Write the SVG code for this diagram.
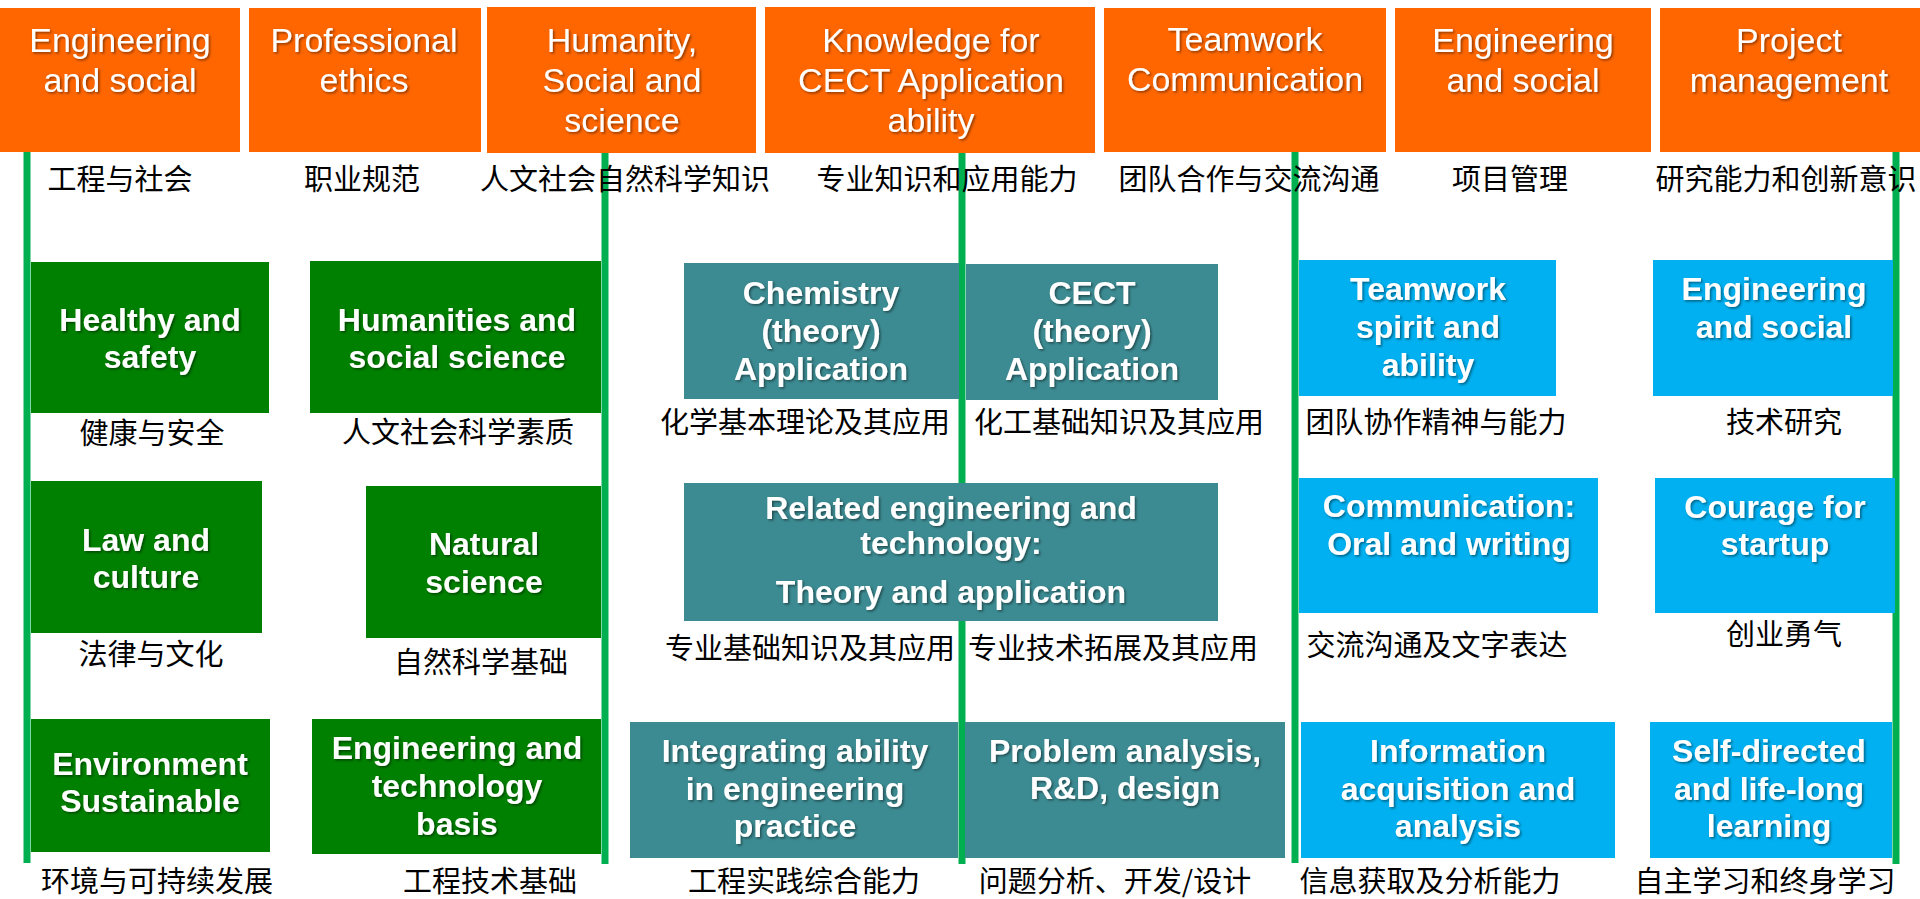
<svg xmlns="http://www.w3.org/2000/svg" width="1920" height="899" viewBox="0 0 1920 899">
<defs>
<filter id="sh" x="-10%" y="-20%" width="120%" height="150%"><feDropShadow dx="1.5" dy="1.5" stdDeviation="0.8" flood-color="#000" flood-opacity="0.45"/></filter>
<style>
.hd{fill:#FF6600}
.gn{fill:#008000}
.tl{fill:#3C8B92}
.cy{fill:#00B0F0}
.ht{font-family:"Liberation Sans",Arial,sans-serif;font-size:34px;fill:#fff;text-anchor:middle;filter:url(#sh)}
.bt{font-family:"Liberation Sans",Arial,sans-serif;font-size:32px;font-weight:bold;fill:#fff;text-anchor:middle;filter:url(#sh)}
.zh{font-family:"Noto Sans CJK SC","Noto Sans CJK JP",sans-serif;font-size:29px;fill:#000;text-anchor:middle}
.ln{stroke:#00B050;stroke-width:7;fill:none}
</style>
</defs>
<rect width="1920" height="899" fill="#fff"/>
<g id="connectors">
<line class="ln" x1="27" y1="151" x2="27" y2="863"/>
<line class="ln" x1="605" y1="152" x2="605" y2="864"/>
<line class="ln" x1="962" y1="152" x2="962" y2="864"/>
<line class="ln" x1="1295" y1="152" x2="1295" y2="863"/>
<line class="ln" x1="1896" y1="152" x2="1896" y2="864"/>
</g>
<g id="h1"><rect class="hd" x="0" y="8" width="240" height="144"/><text class="ht" x="120" y="52">Engineering</text><text class="ht" x="120" y="92">and social</text><text class="zh" x="120" y="190">工程与社会</text></g>
<g id="h2"><rect class="hd" x="249" y="8" width="232" height="144"/><text class="ht" x="364" y="52">Professional</text><text class="ht" x="364" y="92">ethics</text><text class="zh" x="362" y="190">职业规范</text></g>
<g id="h3"><rect class="hd" x="487" y="7" width="269" height="146"/><text class="ht" x="622" y="52">Humanity,</text><text class="ht" x="622" y="92">Social and</text><text class="ht" x="622" y="132">science</text><text class="zh" x="625" y="190">人文社会自然科学知识</text></g>
<g id="h4"><rect class="hd" x="765" y="7" width="330" height="146"/><text class="ht" x="931" y="52">Knowledge for</text><text class="ht" x="931" y="92">CECT Application</text><text class="ht" x="931" y="132">ability</text><text class="zh" x="947" y="190">专业知识和应用能力</text></g>
<g id="h5"><rect class="hd" x="1104" y="8" width="282" height="144"/><text class="ht" x="1245" y="51">Teamwork</text><text class="ht" x="1245" y="91">Communication</text><text class="zh" x="1249" y="190">团队合作与交流沟通</text></g>
<g id="h6"><rect class="hd" x="1395" y="8" width="256" height="144"/><text class="ht" x="1523" y="52">Engineering</text><text class="ht" x="1523" y="92">and social</text><text class="zh" x="1510" y="190">项目管理</text></g>
<g id="h7"><rect class="hd" x="1660" y="8" width="260" height="144"/><text class="ht" x="1789" y="52">Project</text><text class="ht" x="1789" y="92">management</text><text class="zh" x="1786" y="190">研究能力和创新意识</text></g>

<g id="n-health"><rect class="gn" x="31" y="262" width="238" height="151"/><text class="bt" x="150" y="331">Healthy and</text><text class="bt" x="150" y="368">safety</text><text class="zh" x="152" y="444">健康与安全</text></g>
<g id="n-humanities"><rect class="gn" x="310" y="261" width="291" height="152"/><text class="bt" x="457" y="331">Humanities and</text><text class="bt" x="457" y="368">social science</text><text class="zh" x="458" y="443">人文社会科学素质</text></g>
<g id="n-chem"><rect class="tl" x="684" y="263" width="275" height="136"/><text class="bt" x="821" y="304">Chemistry</text><text class="bt" x="821" y="342">(theory)</text><text class="bt" x="821" y="380">Application</text><text class="zh" x="805" y="433">化学基本理论及其应用</text></g>
<g id="n-cect"><rect class="tl" x="966" y="264" width="252" height="136"/><text class="bt" x="1092" y="304">CECT</text><text class="bt" x="1092" y="342">(theory)</text><text class="bt" x="1092" y="380">Application</text><text class="zh" x="1119" y="433">化工基础知识及其应用</text></g>
<g id="n-teamspirit"><rect class="cy" x="1299" y="260" width="257" height="136"/><text class="bt" x="1428" y="300">Teamwork</text><text class="bt" x="1428" y="338">spirit and</text><text class="bt" x="1428" y="376">ability</text><text class="zh" x="1436" y="433">团队协作精神与能力</text></g>
<g id="n-engsocial"><rect class="cy" x="1653" y="260" width="240" height="136"/><text class="bt" x="1774" y="300">Engineering</text><text class="bt" x="1774" y="338">and social</text><text class="zh" x="1784" y="433">技术研究</text></g>

<g id="n-law"><rect class="gn" x="31" y="481" width="231" height="152"/><text class="bt" x="146" y="551">Law and</text><text class="bt" x="146" y="588">culture</text><text class="zh" x="151" y="665">法律与文化</text></g>
<g id="n-natural"><rect class="gn" x="366" y="486" width="235" height="152"/><text class="bt" x="484" y="555">Natural</text><text class="bt" x="484" y="593">science</text><text class="zh" x="481" y="673">自然科学基础</text></g>
<g id="n-related"><rect class="tl" x="684" y="483" width="534" height="138"/><text class="bt" x="951" y="519">Related engineering and</text><text class="bt" x="951" y="554">technology:</text><text class="bt" x="951" y="603">Theory and application</text><text class="zh" x="810" y="659">专业基础知识及其应用</text><text class="zh" x="1113" y="659">专业技术拓展及其应用</text></g>
<g id="n-comm"><rect class="cy" x="1299" y="478" width="299" height="135"/><text class="bt" x="1449" y="517">Communication:</text><text class="bt" x="1449" y="555">Oral and writing</text><text class="zh" x="1437" y="656">交流沟通及文字表达</text></g>
<g id="n-courage"><rect class="cy" x="1655" y="478" width="240" height="135"/><text class="bt" x="1775" y="518">Courage for</text><text class="bt" x="1775" y="555">startup</text><text class="zh" x="1784" y="645">创业勇气</text></g>

<g id="n-env"><rect class="gn" x="31" y="719" width="239" height="133"/><text class="bt" x="150" y="775">Environment</text><text class="bt" x="150" y="812">Sustainable</text><text class="zh" x="157" y="892">环境与可持续发展</text></g>
<g id="n-engtech"><rect class="gn" x="312" y="719" width="289" height="135"/><text class="bt" x="457" y="759">Engineering and</text><text class="bt" x="457" y="797">technology</text><text class="bt" x="457" y="835">basis</text><text class="zh" x="490" y="892">工程技术基础</text></g>
<g id="n-integrating"><rect class="tl" x="630" y="722" width="328" height="136"/><text class="bt" x="795" y="762">Integrating ability</text><text class="bt" x="795" y="800">in engineering</text><text class="bt" x="795" y="837">practice</text><text class="zh" x="804" y="892">工程实践综合能力</text></g>
<g id="n-problem"><rect class="tl" x="965" y="722" width="320" height="136"/><text class="bt" x="1125" y="762">Problem analysis,</text><text class="bt" x="1125" y="799">R&amp;D, design</text><text class="zh" x="1115" y="892">问题分析、开发/设计</text></g>
<g id="n-info"><rect class="cy" x="1301" y="722" width="314" height="136"/><text class="bt" x="1458" y="762">Information</text><text class="bt" x="1458" y="800">acquisition and</text><text class="bt" x="1458" y="837">analysis</text><text class="zh" x="1430" y="892">信息获取及分析能力</text></g>
<g id="n-self"><rect class="cy" x="1650" y="722" width="242" height="136"/><text class="bt" x="1769" y="762">Self-directed</text><text class="bt" x="1769" y="800">and life-long</text><text class="bt" x="1769" y="837">learning</text><text class="zh" x="1765" y="892">自主学习和终身学习</text></g>
</svg>
